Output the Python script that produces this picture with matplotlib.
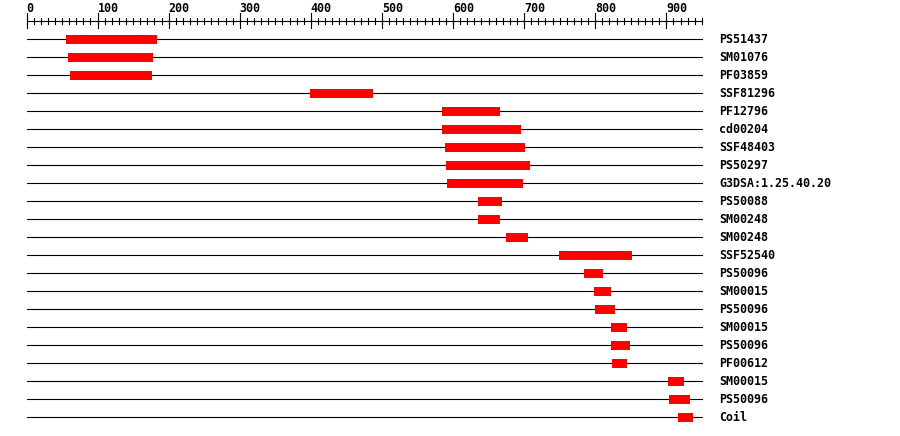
import numpy as np
import matplotlib.pyplot as plt

# domain hits: name, start, end (sequence positions)
names = ['PS51437', 'SM01076', 'PF03859', 'SSF81296', 'PF12796', 'cd00204',
         'SSF48403', 'PS50297', 'G3DSA:1.25.40.20', 'PS50088', 'SM00248',
         'SM00248', 'SSF52540', 'PS50096', 'SM00015', 'PS50096', 'SM00015',
         'PS50096', 'PF00612', 'SM00015', 'PS50096', 'Coil']
starts = [56, 58, 61, 399, 585, 585, 589, 590, 592, 635, 635, 675, 749, 784,
          798, 800, 822, 822, 824, 902, 904, 917]
ends = [184, 178, 177, 487, 666, 696, 701, 708, 698, 669, 666, 705, 852, 811,
        822, 828, 845, 849, 845, 925, 933, 938]
seq_len = 950
major_ticks = np.arange(0, 901, 100)
minor_ticks = np.arange(0, seq_len + 1, 10)

px = 0.7109  # pixels per residue
x0 = 26.5    # pixel of position 0
fig = plt.figure(figsize=(9, 4.36), dpi=100)
ax = fig.add_axes([0, 0, 1, 1])
ax.set_xlim(-x0 / px, (900 - x0) / px)
ax.set_ylim((436 - 39) / 18, -39 / 18)
ax.axis('off')

font = dict(family='DejaVu Sans Mono', weight='bold', size=8.4)

# ruler
ax.plot([0, seq_len], [-0.983, -0.983], c='k', lw=0.8)
for t in minor_ticks:
    ax.plot([t, t], [-1.15, -0.817], c='k', lw=0.8)
for t in major_ticks:
    ax.plot([t, t], [-1.444, -0.611], c='k', lw=0.8)
    ax.text(t, -1.72, str(t), ha='left', va='center', **font)

# tracks
for i, (n, s, e) in enumerate(zip(names, starts, ends)):
    ax.plot([0, seq_len], [i, i], c='k', lw=0.8, zorder=1)
    ax.barh(i, e - s, left=s, height=0.5, color='#ff0000', zorder=2)
    ax.text(seq_len + 24, i, n, ha='left', va='center', **font)

fig.savefig('out.png', dpi=100)
